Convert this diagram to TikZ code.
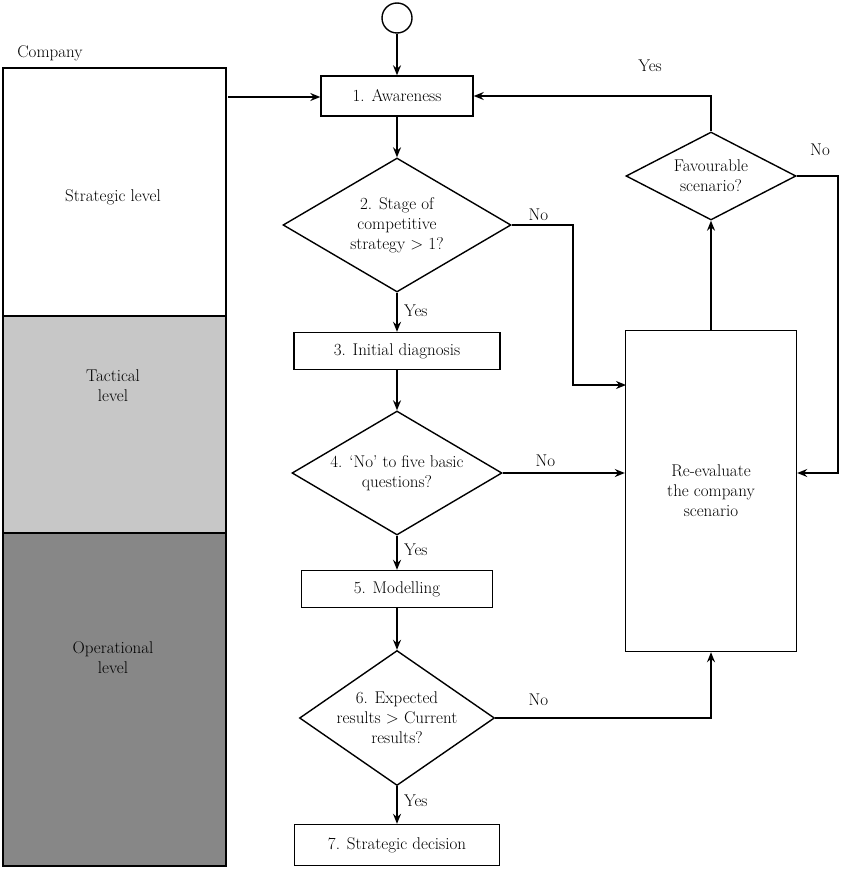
\documentclass[tikz,border=0pt]{standalone}
\usetikzlibrary{shapes.geometric,arrows.meta}
\begin{document}
\begin{tikzpicture}[x=1pt,y=-1pt,font=\fontsize{17}{20}\selectfont,
  dia/.style={draw,line width=1.4pt,diamond,inner sep=0pt,align=center},
  lvl/.style={draw,line width=1.4pt},
  bx/.style={draw,line width=1.4pt},
  arr/.style={line width=1.4pt,-{Stealth[length=10pt,width=8pt]}}]
\useasboundingbox (0,0) rectangle (850,872);
% left column
\draw[lvl,fill=white] (3,68) rectangle (226,316);
\draw[lvl,fill=black!22] (3,316) rectangle (226,533);
\draw[lvl,fill=black!47] (3,533) rectangle (226,866);
\node (company) at (50,53) {Company};
\node (strat) at (113,197) {Strategic level};
\node[align=center] (tact) at (113,386) {Tactical\\level};
\node[align=center] (oper) at (113,658) {Operational\\level};
\coordinate (cout) at (228,97);
% start
\node[draw,line width=1.4pt,circle,minimum size=30pt,inner sep=0pt] (start) at (397,18) {};
% boxes
\node[bx,minimum width=152pt,minimum height=40pt] (n1) at (397,96) {1. Awareness};
\node[dia,minimum width=228pt,minimum height=134pt] (n2) at (397,225) {};
\node[align=center] (t2) at (397,225) {2. Stage of\\competitive\\strategy > 1?};
\node[bx,minimum width=206pt,minimum height=37pt] (n3) at (397,351) {3. Initial diagnosis};
\node[dia,minimum width=210pt,minimum height=124pt] (n4) at (397,473) {};
\node[align=center] (t4) at (397,473) {4. `No' to five basic\\questions?};
\node[bx,minimum width=191pt,minimum height=37pt] (n5) at (397,589) {5. Modelling};
\node[dia,minimum width=195pt,minimum height=135pt] (n6) at (397,718) {};
\node[align=center] (t6) at (397,718) {6. Expected\\results > Current\\results?};
\node[bx,minimum width=205pt,minimum height=41pt] (n7) at (397,845) {7. Strategic decision};
\node[bx,minimum width=171pt,minimum height=321pt,align=center] (re) at (711,491) {Re-evaluate\\the company\\scenario};
\node[dia,minimum width=170pt,minimum height=88pt] (fav) at (711,176) {};
\node[align=center] (tf) at (711,176) {Favourable\\scenario?};
% connectors
\draw[arr] (start) -- (n1);
\draw[arr] (cout) -- (cout -| n1.west);
\draw[arr] (n1) -- (n2);
\draw[arr] (n2) -- node[right,pos=0.45,xshift=3pt] {Yes} (n3);
\draw[arr] (n3) -- (n4);
\draw[arr] (n4) -- node[right,pos=0.4,xshift=3pt] {Yes} (n5);
\draw[arr] (n5) -- (n6);
\draw[arr] (n6) -- node[right,pos=0.4,xshift=3pt] {Yes} (n7);
\draw[arr] (n2.east) -- node[above,pos=0.5,xshift=-4pt] {No} (573,225) |- (626,385);
\draw[arr] (n4.east) -- node[above,pos=0.35,yshift=2pt] {No} (n4.east -| re.west);
\draw[arr] (n6.east) -- node[above,pos=0.2,yshift=8pt] {No} (n6.east -| re.south) -- (re.south);
\draw[arr] (re.north) -- (fav.south);
\draw[arr] (fav.north) -- (fav.north |- n1.east) -- (n1.east);
\node (yes1) at (650,66) {Yes};
\draw[arr] (fav.east) -- (838,176) |- (re.east |- 0,473);
\node (no1) at (820,150) {No};
\end{tikzpicture}
\end{document}
